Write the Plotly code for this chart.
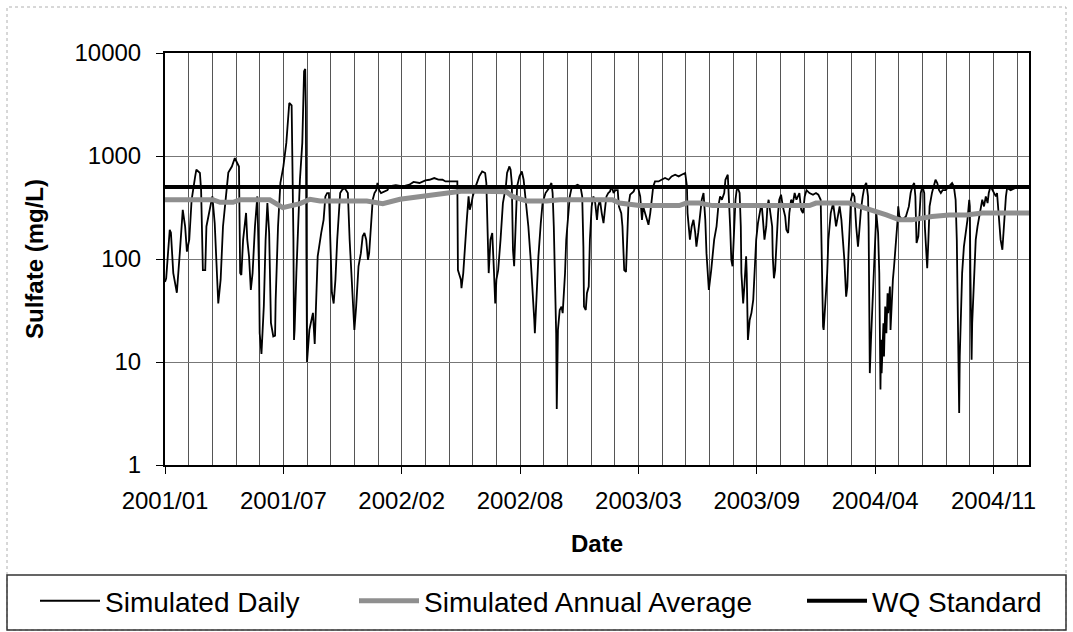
import pandas as pd
import plotly.graph_objects as go

# ---- data ----
start_date = "2001-01-01"

# Simulated daily sulfate: day offset since 2001-01-01, value (mg/L)
daily_day = [0, 2, 8, 10, 14, 20, 25, 30, 34, 37, 41, 45, 51, 53, 59, 61, 64, 68, 70, 76, 80, 84, 87, 90, 94, 98,
             103, 107, 113, 118, 122, 125, 127, 129, 132, 137, 139, 142, 145, 148, 152, 156, 159, 160, 163, 167, 170,
             173, 176, 179, 183, 186, 187, 191, 195, 200, 205, 208, 210, 214, 215, 217, 218, 219, 222, 225, 228, 232,
             235, 237, 238, 239, 240, 241, 244, 247, 250, 253, 255, 258, 264, 268, 271, 274, 277, 279, 282, 285, 288,
             291, 294, 296, 299, 303, 306, 309, 312, 316, 320, 323, 327, 331, 334, 337, 340, 343, 345, 348, 351, 354,
             357, 359, 362, 365, 371, 376, 379, 390, 402, 413, 420, 430, 440, 447, 455, 462, 469, 474, 494,
             495, 500, 501, 504, 507, 510, 513, 515, 518, 520, 525, 531, 536, 541, 543, 545, 547, 550, 553, 556, 558,
             560, 563, 567, 571, 576, 578, 582, 584, 586, 588, 590, 592, 595, 599, 603, 606, 609, 614, 618, 622, 624,
             625, 627, 631, 635, 638, 643, 649, 653, 655, 657, 660, 661, 662, 663, 664, 667, 670, 672, 676, 678, 681,
             684, 687, 691, 697, 702, 705, 707, 708, 711, 713, 716, 718, 721, 724, 727, 730, 732, 735, 738, 741, 744,
             746, 749, 752, 755, 758, 761, 765, 767, 771, 773, 775, 776, 779, 781, 783, 786, 792, 795, 799, 803, 806,
             808, 811, 814, 817, 820, 822, 825, 828, 834, 839, 845, 851, 856, 862, 868, 873, 879, 882, 883, 886, 887,
             890, 893, 896, 898, 901, 904, 907, 910, 913, 915, 917, 919, 923, 925, 928, 932, 935, 938, 941, 945, 947,
             951, 953, 955, 957, 959, 962, 964, 966, 968, 971, 973, 974, 976, 977, 979, 982, 983, 984, 985, 988, 991,
             994, 996, 999, 1002, 1005, 1008, 1010, 1013, 1016, 1018, 1020, 1023, 1026, 1027, 1029, 1031, 1033, 1036,
             1038, 1041, 1044, 1048, 1050, 1053, 1055, 1058, 1061, 1064, 1067, 1069, 1072, 1075, 1078, 1081, 1084,
             1089, 1095, 1100, 1104, 1108, 1109, 1110, 1112, 1113, 1116, 1119, 1121, 1125, 1129, 1131, 1134, 1137,
             1140, 1143, 1145, 1148, 1151, 1153, 1155, 1157, 1159, 1162, 1165, 1168, 1171, 1173, 1176, 1179, 1182,
             1185, 1188, 1189, 1190, 1191, 1193, 1196, 1199, 1202, 1205, 1207, 1209, 1210, 1211, 1214, 1215, 1217,
             1219, 1221, 1222, 1225, 1226, 1228, 1230, 1232, 1234, 1236, 1238, 1239, 1241, 1246, 1252, 1257, 1260,
             1263, 1266, 1268, 1269, 1270, 1273, 1275, 1277, 1280, 1283, 1284, 1286, 1288, 1290, 1292, 1296, 1300,
             1302, 1305, 1308, 1311, 1314, 1319, 1325, 1330, 1333, 1336, 1338, 1340, 1341, 1342, 1343, 1345, 1347,
             1350, 1353, 1356, 1359, 1360, 1361, 1363, 1364, 1367, 1370, 1373, 1376, 1378, 1381, 1384, 1387, 1390,
             1392, 1395, 1398, 1401, 1404, 1406, 1409, 1412, 1415, 1418, 1421, 1423, 1429, 1437, 1446, 1454, 1460]
daily_val = [60, 65, 192, 180, 73, 47, 114, 300, 207, 118, 154, 376, 634, 736, 684, 466, 78, 78, 207, 300, 405, 223,
             73, 37, 63, 207, 405, 690, 790, 955, 855, 790, 73, 70, 154, 280, 154, 106, 50, 73, 207, 405, 73, 19, 12,
             35, 154, 350, 180, 24, 17.7, 18, 40, 207, 550, 790, 1340, 2255, 3270, 3100, 1440, 154, 16.4, 20.5, 73,
             207, 588, 1340, 6640, 7000, 3000, 100, 10, 12, 20.5, 25, 30, 15, 34.5, 106, 179, 240, 405, 437, 437, 154,
             47, 37, 63, 154, 324, 437, 466, 489, 466, 437, 154, 47, 20.5, 34.5, 85, 114, 166, 179, 154, 98, 114, 207,
             376, 437, 466, 547, 466, 437, 453, 466, 507, 520, 507, 526, 560, 547, 580, 588, 611, 590, 588, 566, 566,
             78, 63, 52, 73, 154, 240, 405, 301, 349, 405, 507, 634, 707, 684, 547, 154, 73, 154, 179, 73, 37,
             63, 78, 154, 349, 507, 684, 792, 736, 547, 123, 85, 207, 507, 634, 707, 588, 405, 207, 98, 46.6, 25.6,
             19, 34.5, 106, 223, 349, 437, 489, 547, 437, 207, 40, 19, 3.5, 7.8, 20.5, 32, 34.5, 29.8, 73, 154, 240,
             405, 489, 507, 526, 507, 405, 132, 34.5, 32, 46.6, 54, 154, 324, 405, 349, 240, 324, 376, 279, 223, 324,
             405, 437, 453, 507, 437, 466, 466, 324, 279, 207, 114, 78, 75, 154, 324, 421, 453, 507, 507, 405, 240,
             324, 279, 240, 215, 279, 376, 507, 566, 566, 588, 611, 588, 634, 658, 634, 658, 684, 507, 279, 179, 154,
             207, 240, 179, 132, 179, 279, 376, 437, 240, 114, 73, 50, 78, 106, 154, 207, 324, 405, 376, 437, 588,
             658, 405, 207, 98, 85, 207, 376, 466, 489, 437, 207, 73, 50, 37, 54, 106, 73, 30, 16.4, 25.6, 30,
             40, 73, 154, 223, 279, 349, 259, 154, 207, 324, 376, 279, 207, 106, 65, 78, 154, 279,
             376, 421, 324, 259, 192, 179, 279, 376, 349, 437, 376, 405, 437, 301, 279, 405, 466,
             437, 421, 437, 421, 376, 154, 46, 22, 20.5, 40, 73, 154, 279, 349, 279, 207, 259,
             324, 240, 179, 98, 43, 54, 114, 240, 376, 437, 405, 207, 132, 179, 301, 405, 507,
             547, 405, 207, 34.5, 7.8, 16.4, 40, 106, 279, 179, 73, 5.4, 16.4, 7.8, 23.8, 11.3, 34.5,
             19, 46.6, 29.8, 54, 20.5, 46.6, 63, 85, 114, 154, 240, 324, 259, 240, 259, 324, 437,
             507, 547, 405, 207, 143, 166, 279, 437, 507, 437, 207, 114, 81.5, 154, 324, 437, 547,
             588, 547, 466, 437, 466, 466, 507, 547, 507, 376, 154, 34.5, 7.8, 3.2, 11.3, 29.8, 73,
             132, 179, 240, 376, 324, 73, 10.5, 23.8, 73, 154, 207, 259, 324, 376, 324, 405, 349,
             437, 507, 466, 437, 405, 437, 279, 154, 123, 240, 405, 489, 466, 489, 489, 489, 489]

# Simulated annual average: day offset since 2001-01-01, value (mg/L)
avg_day = [0, 81, 93, 115, 127, 177, 199, 215, 228, 245, 262, 341, 368, 397, 419, 447, 476, 500, 532, 577, 587, 611,
           645, 667, 756, 768, 802, 869, 881, 903, 925, 1016, 1033, 1089, 1100, 1156, 1185, 1219, 1241, 1262, 1296,
           1325, 1354, 1381, 1460]
avg_val = [376, 376, 355, 355, 376, 376, 315, 330, 345, 380, 365, 365, 345, 380, 395, 420, 440, 455, 455, 450, 405,
           365, 365, 376, 376, 349, 330, 330, 349, 349, 330, 336, 330, 330, 349, 349, 312, 268, 240, 240, 259, 268,
           268, 279, 279]

# Water quality standard (mg/L)
wq_day = [0, 1460]
wq_val = [500, 500]

series_names = ["Simulated Daily", "Simulated Annual Average", "WQ Standard"]
y_tick_vals = [1, 10, 100, 1000, 10000]
y_tick_text = ["1", "10", "100", "1000", "10000"]


def to_dates(days):
    return pd.Timestamp(start_date) + pd.to_timedelta(days, unit="D")


FONT = "Arial, Liberation Sans, sans-serif"
DAY_MS = 86400000

fig = go.Figure()
fig.add_trace(go.Scatter(x=to_dates(daily_day), y=daily_val, mode="lines", name=series_names[0],
                         line=dict(color="black", width=1.8), legend="legend"))
fig.add_trace(go.Scatter(x=to_dates(avg_day), y=avg_val, mode="lines", name=series_names[1],
                         line=dict(color="#8f8f8f", width=5), legend="legend2"))
fig.add_trace(go.Scatter(x=to_dates(wq_day), y=wq_val, mode="lines", name=series_names[2],
                         line=dict(color="black", width=4), legend="legend3"))

W, H = 1073, 632
L, R, T, B = 165, 44, 53, 167
pw, ph = W - L - R, H - T - B


def px_x(p):
    return (p - L) / pw


def px_y(p):
    return (H - B - p) / ph


leg_common = dict(orientation="h", xref="container", yref="container", xanchor="left", yanchor="middle",
                  bgcolor="rgba(0,0,0,0)", borderwidth=0, itemwidth=60,
                  font=dict(family=FONT, size=28, color="black"))

fig.update_layout(
    width=W, height=H,
    margin=dict(l=L, r=R, t=T, b=B),
    paper_bgcolor="white", plot_bgcolor="white",
    font=dict(family=FONT, color="black"),
    showlegend=True,
    legend=dict(x=35 / W, y=0.049, **leg_common),
    legend2=dict(x=354 / W, y=0.049, **leg_common),
    legend3=dict(x=802 / W, y=0.049, **leg_common),
    xaxis=dict(
        type="date",
        range=[to_dates([0])[0], to_dates([1460])[0]],
        tick0=start_date, dtick=200 * DAY_MS, tickformat="%Y/%m",
        ticks="outside", ticklen=7, tickcolor="black", tickwidth=1,
        ticklabelstandoff=6,
        showgrid=True, gridcolor="#555555", gridwidth=1,
        minor=dict(tick0=start_date, dtick=40 * DAY_MS, showgrid=True, gridcolor="#555555", gridwidth=1,
                   ticks=""),
        showline=True, linecolor="black", linewidth=2, mirror=True,
        tickfont=dict(family=FONT, size=24, color="black"),
        title=dict(text="<b>Date</b>", font=dict(family=FONT, size=24, color="black"), standoff=22),
        zeroline=False,
    ),
    yaxis=dict(
        type="log", range=[0, 4],
        tickvals=y_tick_vals, ticktext=y_tick_text,
        ticks="outside", ticklen=7, tickcolor="black", tickwidth=1,
        ticklabelstandoff=10,
        showgrid=True, gridcolor="#777777", gridwidth=1,
        showline=True, linecolor="black", linewidth=2, mirror=True,
        tickfont=dict(family=FONT, size=24, color="black"),
        title=dict(text="<b>Sulfate (mg/L)</b>", font=dict(family=FONT, size=24, color="black"), standoff=24),
        zeroline=False,
    ),
    shapes=[
        dict(type="rect", xref="paper", yref="paper", x0=px_x(7), x1=px_x(1066), y0=px_y(630), y1=px_y(7),
             line=dict(color="#b0b0b0", width=1, dash="dot"), fillcolor="rgba(0,0,0,0)", layer="below"),
        dict(type="rect", xref="paper", yref="paper", x0=px_x(7), x1=px_x(1066), y0=px_y(630), y1=px_y(575),
             line=dict(color="#333333", width=1.5), fillcolor="rgba(0,0,0,0)", layer="below"),
    ],
)

fig.write_html("out.html", config={"displayModeBar": False},
               post_script="document.body.style.margin='0';")
